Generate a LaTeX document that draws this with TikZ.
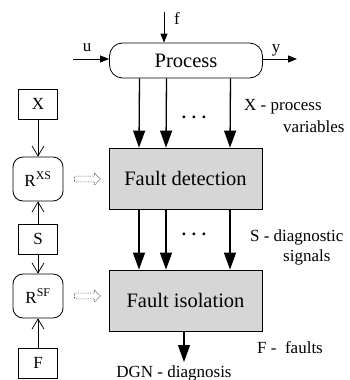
\documentclass[tikz,border=0pt]{standalone}
\usepackage{fontspec}
\setmainfont{Liberation Serif}
\usetikzlibrary{arrows.meta,shapes.arrows}
\begin{document}
\begin{tikzpicture}[x=1pt,y=-1pt,
  bigfont/.style={font=\fontsize{20.5}{24}\selectfont},
  lbl/.style={font=\fontsize{17}{20}\selectfont, inner sep=0pt},
  procbox/.style={draw, line width=0.8pt, rounded corners=13pt, minimum width=153pt, minimum height=35pt, bigfont},
  blockbox/.style={draw, line width=0.8pt, fill=black!16, minimum width=153pt, minimum height=61pt, bigfont},
  sqbox/.style={draw, line width=0.8pt, minimum width=39pt, minimum height=30pt, lbl},
  relbox/.style={draw, line width=0.8pt, rounded corners=10pt, minimum width=50pt, minimum height=44pt, lbl},
  bigarrow/.style={line width=1.3pt, -{Triangle[length=17pt,width=12pt]}},
  smallarrow/.style={line width=0.8pt, -{Triangle[length=9pt,width=7pt]}},
  barb/.style={line width=0.7pt, -{Straight Barb[length=10pt,width=12pt]}},
  hollow/.style={shape=single arrow, draw=black!80, densely dotted, line width=0.7pt,
    minimum height=26pt, minimum width=12pt, inner sep=2.4pt, single arrow head extend=3pt},
  gapdots/.style={font=\fontsize{17}{20}\selectfont\bfseries, inner sep=0pt},
]
\useasboundingbox (0,0) rectangle (350,380);

% main chain
\node[procbox] (proc) at (186,60.5) {Process};
\node[blockbox] (fd) at (185.5,178.5) {Fault detection};
\node[blockbox] (fi) at (185.5,300.5) {Fault isolation};

% process inputs and outputs
\coordinate (fin) at (164,12);
\coordinate (uin) at (73,59);
\coordinate (yout) at (297,59);
\draw[smallarrow] (fin) -- (fin |- proc.north);
\node[lbl] (flbl) at (177,19) {f};
\draw[smallarrow] (uin) -- (uin -| proc.west);
\node[lbl] (ulbl) at (87,48) {u};
\draw[smallarrow] (yout -| proc.east) -- (yout);
\node[lbl] (ylbl) at (276,50) {y};

% process variables
\foreach \dx in {-46.5,-19.5,44.5}
  \draw[bigarrow] ([xshift=\dx pt]proc.south) -- ([xshift=\dx pt]fd.north);
\node[gapdots] (dots1) at (194,117) {.\,\,.\,\,.};

% diagnostic signals
\foreach \dx in {-46.5,-19.5,44.5}
  \draw[bigarrow] ([xshift=\dx pt]fd.south) -- ([xshift=\dx pt]fi.north);
\node[gapdots] (dots2) at (194,234) {.\,\,.\,\,.};

% diagnosis
\coordinate (dgn) at (184,362);
\draw[bigarrow] (fi.south -| dgn) -- (dgn);
\node[lbl] (dgnlbl) at (174,373) {DGN - diagnosis};

% relations column
\node[sqbox] (xb) at (38,104) {X};
\node[relbox] (rxs) at (38,179) {R\textsuperscript{XS}};
\node[sqbox] (sb) at (38,239) {S};
\node[relbox] (rsf) at (38,296) {R\textsuperscript{SF}};
\node[sqbox] (fb) at (38,363) {F};
\draw[barb] (xb) -- (rxs);
\draw[barb] (sb) -- (rxs);
\draw[barb] (sb) -- (rsf);
\draw[barb] (fb) -- (rsf);

\node[hollow] (ha1) at (86,179) {};
\node[hollow] (ha2) at (86,296) {};

% legend
\node[lbl, anchor=west] (lx1) at (244,107) {X - process};
\node[lbl, anchor=west] (lx2) at (283,127) {variables};
\node[lbl, anchor=west] (ls1) at (250,237) {S -\hspace{4pt}diagnostic};
\node[lbl, anchor=west] (ls2) at (283,257) {signals};
\node[lbl, anchor=west] (lf) at (257,348) {F -\ \ faults};
\end{tikzpicture}
\end{document}
